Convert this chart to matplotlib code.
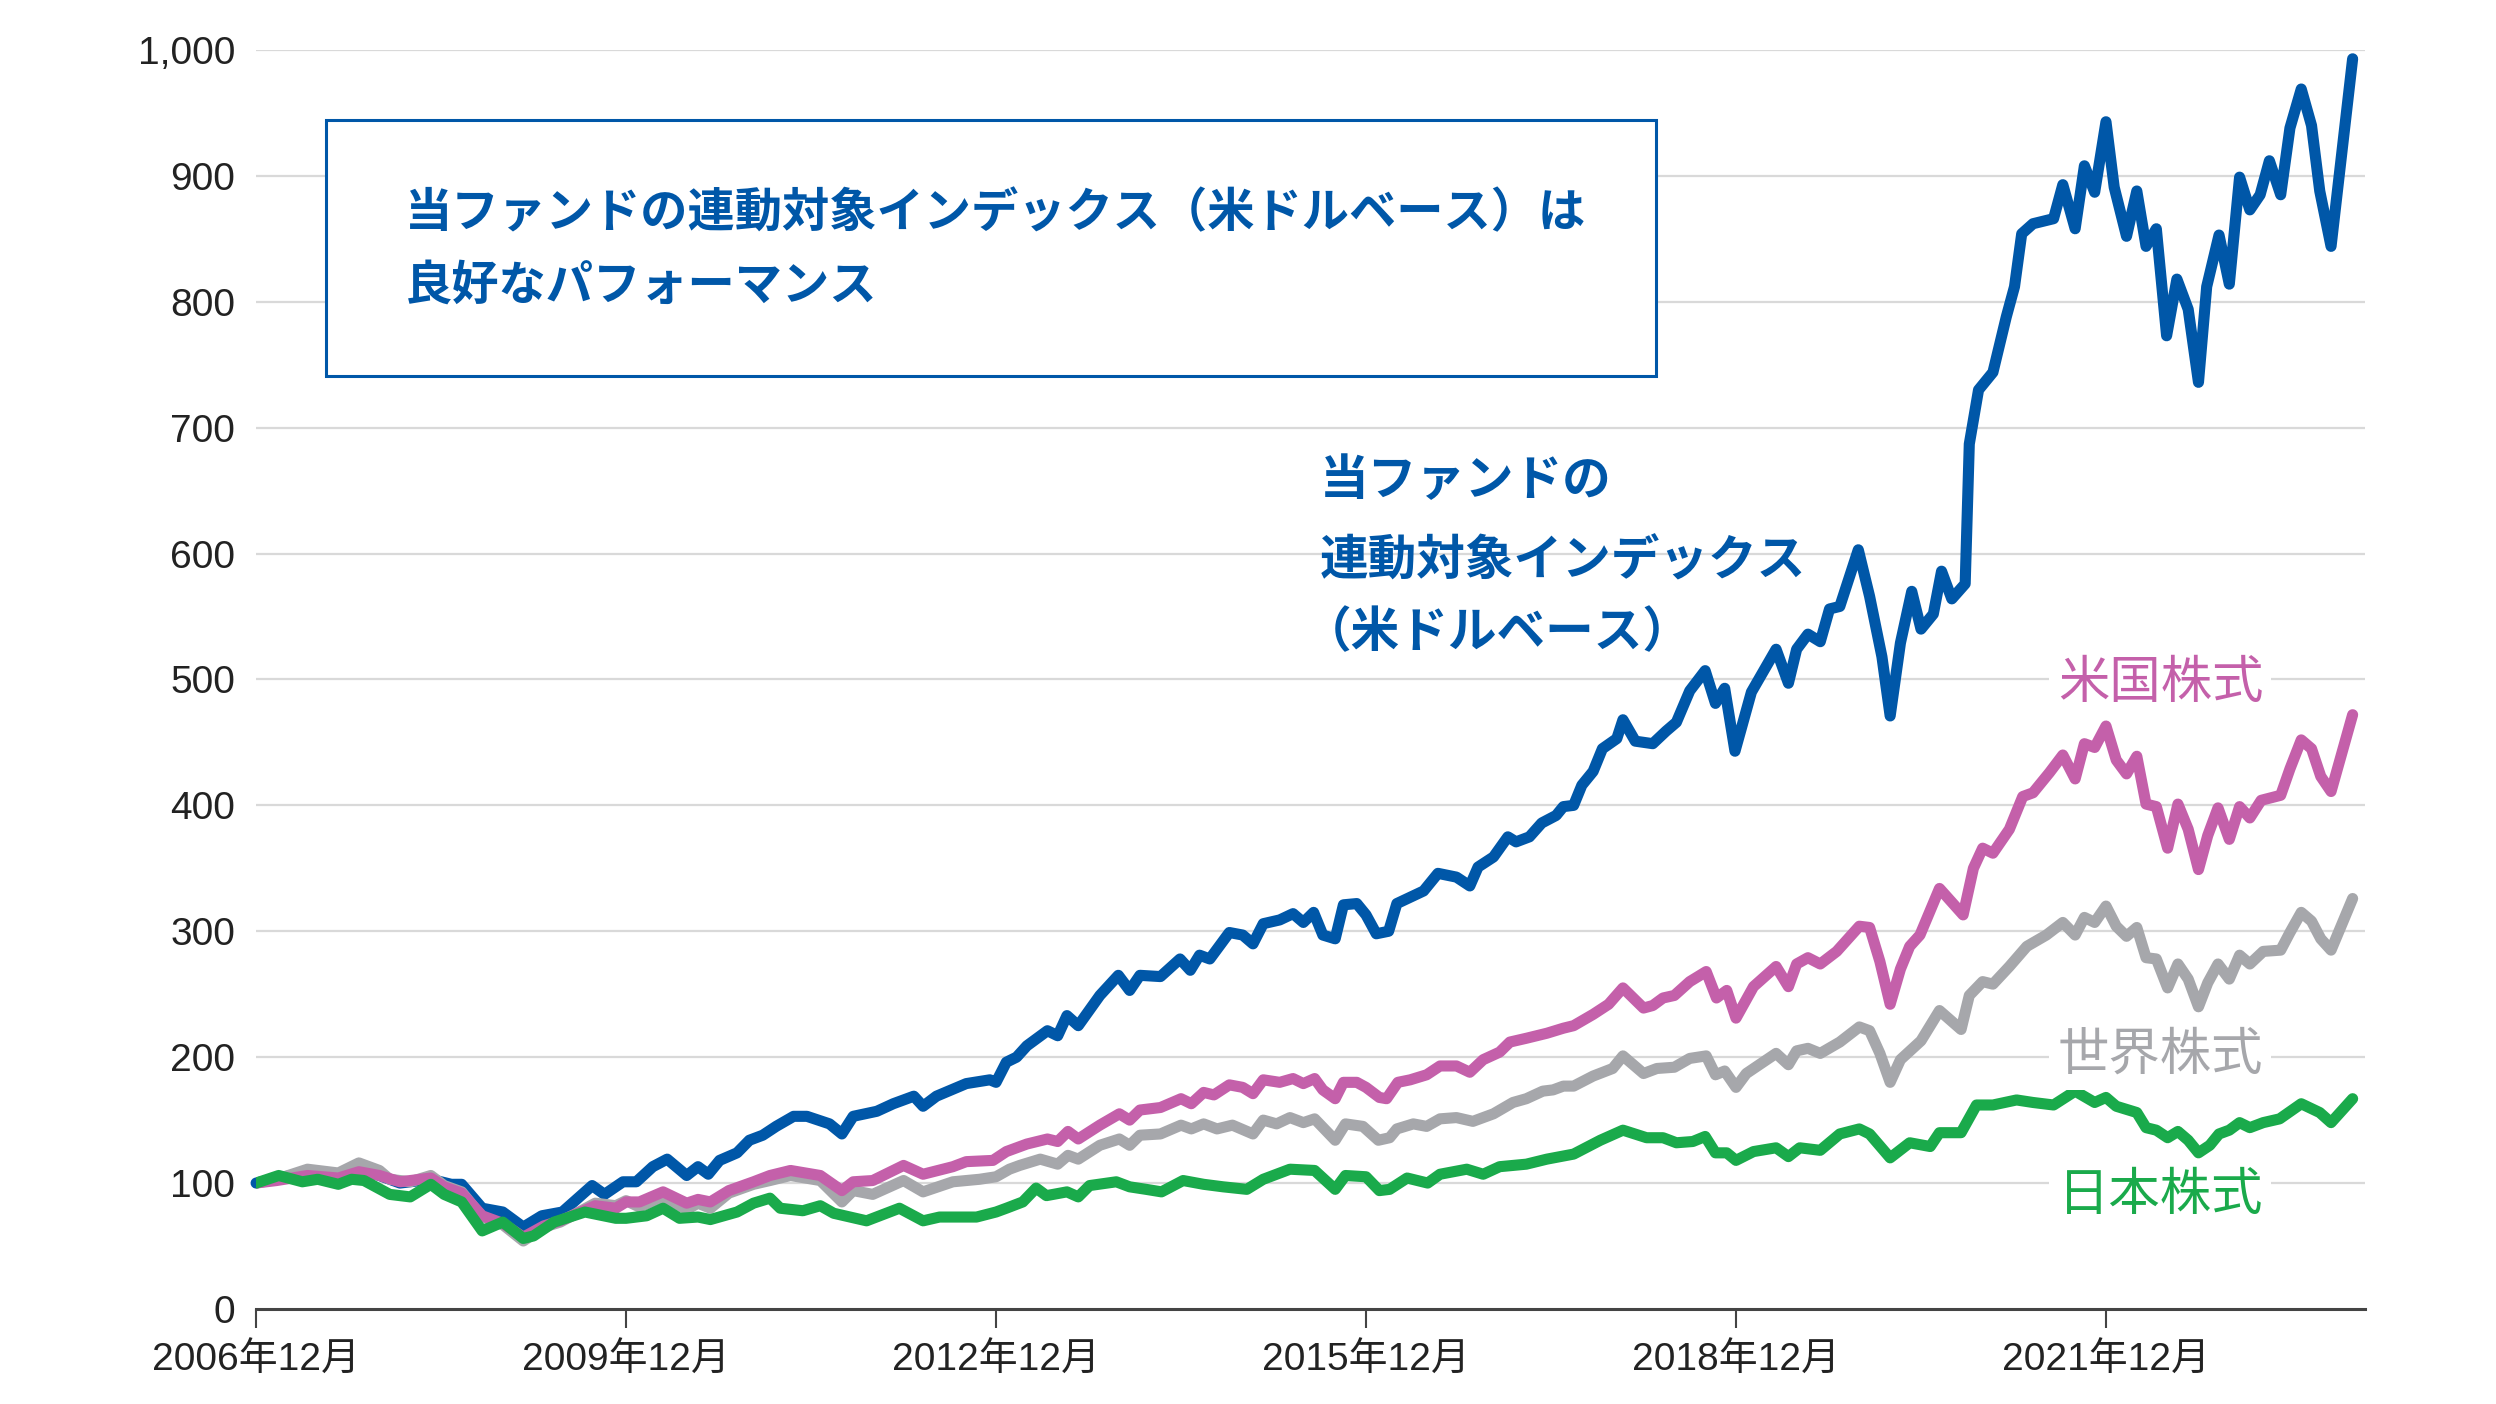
import matplotlib
matplotlib.use("Agg")
from matplotlib import pyplot as plt
from matplotlib.patches import Rectangle
import numpy as np

plt.rcParams['font.family'] = ['Liberation Sans', 'Noto Sans CJK JP', 'DejaVu Sans']

# months since 2006-12 (start = 100)
fund_m = [0, 2, 5, 8, 10, 12, 14, 17, 19, 20, 22, 24, 26, 27.8, 29.8, 32.7, 33.9, 35.7, 37, 38.6,
          40, 41.9, 43, 44, 45.1, 46.8, 48, 49.3, 50.6, 52.3, 53.6, 55.8, 57, 58.1, 60.4, 62, 64,
          64.9, 66.2, 69.1, 71.4, 72, 73, 74, 75, 77, 78, 78.9, 80, 82.1, 83.9, 85, 86, 88, 89.9,
          90.9, 91.8, 92.8, 94.7, 96, 97, 98, 99.6, 100.9, 101.9, 102.9, 103.8, 105, 105.8, 107.1,
          108, 109, 110.2, 111, 112.3, 113.6, 115, 116.8, 118.1, 118.9, 120.4, 121.8, 122.6, 123.9,
          125.1, 126.5, 127.2, 128.2, 129, 130.1, 131, 132.4, 133, 134.2, 135.9, 137.2, 138.2,
          139.5, 141, 142, 142.9, 143.9, 145.5, 147.9, 149.1, 149.9, 151, 152.2, 153.1, 154.1,
          155.9, 157, 158.2, 159, 160, 161.1, 162, 163.2, 164, 165, 166.3, 166.7, 167.6, 169,
          170.3, 171.1, 171.8, 172.9, 174.9, 175.8, 177, 177.9, 178.9, 180, 180.8, 182, 183,
          183.9, 184.9, 185.9, 186.9, 188, 189, 189.8, 191, 192, 193, 194, 195, 195.9, 197,
          197.9, 199, 200, 200.8, 201.9, 204]
fund_v = [100, 104, 108, 105, 112, 106, 100, 103, 99, 99, 80, 77, 65, 74, 77, 98, 91, 101, 101, 113,
          119, 106, 113, 107, 118, 124, 134, 138, 145, 153, 153, 147, 139, 153, 157, 163, 169,
          161, 169, 179, 182, 180, 196, 200, 209, 221, 217, 233, 225, 249, 265, 253, 265, 264, 278,
          269, 281, 278, 299, 297, 290, 306, 309, 314, 307, 315, 297, 294, 321, 322,
          313, 298, 300, 322, 327, 332, 346, 343, 336, 351, 359, 375, 371, 375,
          386, 392, 399, 400, 416, 427, 445, 453, 468, 451, 449, 459, 466,
          491, 507, 481, 493, 443, 490, 524, 497, 524, 536, 530, 556, 558,
          603, 566, 518, 471, 529, 570, 540, 552, 586, 564, 576, 687, 730, 744,
          788, 812, 854, 862, 866, 893, 858, 908, 887, 943, 891, 852, 888,
          844, 858, 773, 818, 794, 736, 812, 853, 814, 899, 873, 885, 912, 885,
          938, 969, 940, 888, 844, 993]

us_m = [0, 2, 5, 8, 10, 12, 14, 17, 18.3, 20, 22, 24, 26, 28, 29.6, 33, 35, 36, 37.3, 39.6, 41.9,
        43, 44.2, 46, 48.4, 50, 52, 54.9, 57, 58.1, 60, 63, 64.9, 67.8, 69.1, 71.7, 73, 75, 77,
        78, 79, 80, 82.1, 84, 85, 86, 88, 90, 91, 92.2, 93.2, 94.7, 96, 97, 98, 99.6, 100.9,
        101.9, 103, 103.8, 105, 105.8, 107.1, 108, 109.3, 110, 111.1, 112.3, 113.9, 115.2,
        116.8, 118.1, 119.4, 121, 122, 123.6, 125.6, 127.2, 128.2, 130.1, 131.6, 133, 135,
        135.9, 136.9, 138, 139.5, 141.1, 142.1, 143.1, 144, 145.7, 147.9, 149.1, 149.9, 151,
        152.2, 153.8, 156, 157, 158, 159, 160, 160.9, 161.9, 163.8, 166.1, 167.1, 168, 169,
        170.6, 171.9, 172.9, 174.5, 175.8, 177, 177.9, 178.9, 180, 181, 182, 183, 183.9, 184.9,
        186, 187, 188, 189, 189.9, 190.9, 192, 193, 194, 195.1, 197, 197.9, 199, 200, 200.9,
        201.9, 204]
us_v = [100, 102, 106, 104, 109, 106, 101, 104, 97, 92, 74, 68, 57, 66, 70, 82, 80, 85, 85, 93, 84,
        87, 85, 94, 101, 106, 110, 106, 94, 101, 102, 114, 107, 113, 117, 118, 125, 131, 135,
        133, 141, 135, 146, 155, 150, 158, 160, 167, 163, 172, 170, 178, 176, 171, 182, 180, 183,
        179, 183, 174, 167, 180, 180, 176, 168, 167, 180, 182, 186, 193,
        193, 188, 198, 204, 212, 215, 219, 223, 225, 234, 242, 255, 239,
        241, 247, 249, 260, 268, 247, 253, 231, 256, 272, 256, 274, 279,
        274, 284, 304, 303, 276, 242, 270, 288, 297, 334, 313, 350, 366, 362,
        381, 407, 410, 426, 440, 421, 449, 446, 463, 436, 425, 439, 401, 399,
        366, 401, 381, 349, 376, 398, 373, 399, 390, 404, 408, 429, 452, 445, 423,
        411, 472]

world_m = [0, 2, 5, 8, 10, 12, 13, 15, 17, 18.3, 20, 22, 24, 26, 28, 29.6, 33, 35, 36, 37.3, 39.6,
           41.9, 43, 44.2, 46, 48.4, 50, 52, 54.9, 57, 58.1, 60, 63, 64.9, 67.8, 70.4, 72, 73.3,
           74.3, 76.3, 78, 79, 80, 82.1, 84, 85, 86, 88, 90, 91, 92.2, 93.5, 95, 97, 98, 99.3,
           100.6, 101.9, 103, 105, 106, 107.7, 109.2, 110.3, 111, 112.6, 113.9, 115.2, 116.8,
           118.4, 120.4, 122.3, 123.6, 125.2, 126.2, 127.2, 128.2, 130.1, 132, 133, 135, 136.3,
           138, 139.5, 141.1, 142, 142.9, 144, 145, 147.9, 149.1, 149.9, 151, 152.2, 154.1, 156,
           157, 158, 159, 160, 162, 163.8, 165.9, 166.7, 168, 169, 170.6, 172.3, 174.2, 175.8,
           177, 177.9, 178.9, 180, 181, 182, 183, 183.9, 184.9, 186, 187, 188, 189, 189.9, 190.9,
           192, 193, 194, 195.3, 197, 197.9, 199, 200, 200.9, 201.9, 204]
world_v = [100, 103, 111, 108, 116, 110, 103, 101, 106, 98, 93, 73, 67, 54, 65, 69, 84, 82, 86, 81, 89,
           79, 84, 80, 92, 99, 102, 106, 102, 85, 94, 91, 102, 93, 101, 103, 105, 111,
           114, 119, 115, 122, 119, 130, 135, 130, 138, 139, 146, 143, 147, 143, 146, 139, 150, 147,
           152, 148, 151, 134, 147, 145, 134, 136, 143, 147, 145, 151, 152,
           149, 155, 164, 167, 173, 174, 177, 177, 185, 191, 201, 187, 191,
           192, 199, 201, 186, 189, 176, 187, 203, 194, 205, 207, 203, 212, 224,
           221, 203, 180, 198, 213, 237, 222, 249, 260, 258, 272, 288, 297, 307,
           297, 311, 307, 320, 304, 296, 303, 279, 278, 255, 274, 262, 240, 259, 274,
           262, 281, 274, 284, 285, 299, 315, 308, 294, 285, 326]

japan_m = [0, 2.2, 4.5, 6, 8, 9.3, 10.5, 13, 15, 17, 18.3, 20, 22, 24, 26, 27, 29, 32, 35, 36, 38,
           39.6, 41.2, 43, 44.2, 46.8, 48.4, 50, 51, 53.2, 54.9, 56.2, 59.4, 62.6, 64.9, 66.5,
           70.1, 72, 73, 74.6, 75.9, 76.9, 78.9, 80, 81.1, 83.7, 85, 86.6, 88.1, 90.2, 92.2, 94.1,
           96.4, 98, 100.6, 103, 105, 106, 108, 109.3, 110.3, 112, 114, 115.2, 117.8, 119.4, 121,
           123.6, 125.6, 128.2, 130.8, 133, 135.3, 136.9, 138.2, 139.8, 141, 142, 143.1, 144,
           145.7, 147.9, 149.1, 150.2, 152.2, 154.1, 156, 157, 159, 160.9, 162.9, 163.8, 165.9,
           167.4, 169, 171.3, 172.9, 174.9, 177, 178.9, 180, 181, 183, 183.9, 184.9, 186, 187,
           188, 189, 190.1, 191, 192, 193, 194, 195.3, 196.9, 199, 200.8, 201.9, 204]
japan_v = [100, 106, 101, 103, 99, 103, 102, 91, 89, 99, 91, 85, 62, 69, 56, 58, 69, 77, 72, 72, 74,
           80, 72, 73, 71, 77, 84, 88, 80, 78, 82, 76, 70, 80, 70, 73,
           73, 77, 80, 85, 96, 90, 93, 89, 98, 101, 97, 95, 93, 102, 99, 97,
           95, 103, 111, 110, 95, 106, 105, 94, 95, 104, 100, 107, 111, 107, 113,
           115, 119, 123, 134, 142, 136, 136, 132, 133, 137, 124, 124, 118,
           125, 128, 121, 128, 126, 139, 143, 139, 120, 132, 129, 140, 140,
           162, 162, 166, 164, 162, 173, 164, 168, 161, 156, 144, 142, 136, 141,
           134, 124, 130, 139, 142, 148, 144, 148, 151, 163, 156, 148, 167]

tick_m = [0, 36, 72, 108, 144, 180]
tick_labels = ['2006年12月', '2009年12月', '2012年12月', '2015年12月', '2018年12月', '2021年12月']
y_ticks = list(range(0, 1001, 100))

c_fund = '#0057a8'
c_us = '#c460aa'
c_world = '#a6a7ab'
c_japan = '#1aaa4b'

fig = plt.figure(figsize=(24.96, 14.04), dpi=100)
ax = fig.add_axes([0.1026, 0.0677, 0.8449, 0.8967])

for y in y_ticks[1:]:
    ax.axhline(y, color='#d9d9d9', lw=1.6, zorder=0)

lw = 8
ax.plot(japan_m, japan_v, color=c_japan, lw=lw, zorder=3, solid_joinstyle='round', solid_capstyle='round')
ax.plot(world_m, world_v, color=c_world, lw=lw, zorder=2, solid_joinstyle='round', solid_capstyle='round')
ax.plot(us_m, us_v, color=c_us, lw=lw, zorder=2, solid_joinstyle='round', solid_capstyle='round')
ax.plot(fund_m, fund_v, color=c_fund, lw=lw, zorder=1.5, solid_joinstyle='round', solid_capstyle='round',
        clip_on=False)

ax.set_xlim(0, 205.2)
ax.set_ylim(0, 1000)
ax.set_yticks(y_ticks)
ax.set_yticklabels([f'{v:,}' for v in y_ticks])
ax.set_xticks(tick_m)
ax.set_xticklabels(tick_labels)

for s in ['top', 'right', 'left']:
    ax.spines[s].set_visible(False)
ax.spines['bottom'].set_color('#444444')
ax.spines['bottom'].set_linewidth(2.2)
ax.tick_params(axis='y', length=0, pad=15, labelsize=28, labelcolor='#222222')
ax.tick_params(axis='x', length=14, width=1.5, color='#444444', pad=10, labelsize=28,
               labelcolor='#222222')

# message box
ax.add_patch(Rectangle((6.8, 741), 129.4, 203, facecolor='white', edgecolor=c_fund, lw=2.2, zorder=4))
ax.text(14.5, 870, '当ファンドの連動対象インデックス（米ドルベース）は', color=c_fund, fontsize=34,
        fontweight='bold', va='center', ha='left', zorder=5, family=['Noto Sans CJK JP'])
ax.text(14.5, 813, '良好なパフォーマンス', color=c_fund, fontsize=34,
        fontweight='bold', va='center', ha='left', zorder=5, family=['Noto Sans CJK JP'])

# series labels
for txt, xx, yy in [('当ファンドの', 103.5, 658), ('連動対象インデックス', 103.5, 594),
                    ('（米ドルベース）', 101.8, 537)]:
    ax.text(xx, yy, txt, color=c_fund, fontsize=35, fontweight='bold', va='center', ha='left',
            zorder=5, family=['Noto Sans CJK JP'])

box = dict(facecolor='white', edgecolor='none', pad=6)
ax.text(185.3, 497, '米国株式', color=c_us, fontsize=37, va='center', ha='center', zorder=5,
        bbox=box, family=['Noto Sans CJK JP'])
ax.text(185.3, 202, '世界株式', color=c_world, fontsize=37, va='center', ha='center', zorder=5,
        bbox=box, family=['Noto Sans CJK JP'])
ax.text(185.3, 90, '日本株式', color=c_japan, fontsize=37, va='center', ha='center', zorder=5,
        bbox=box, family=['Noto Sans CJK JP'])

fig.savefig('out.png', dpi=100, facecolor='white')
